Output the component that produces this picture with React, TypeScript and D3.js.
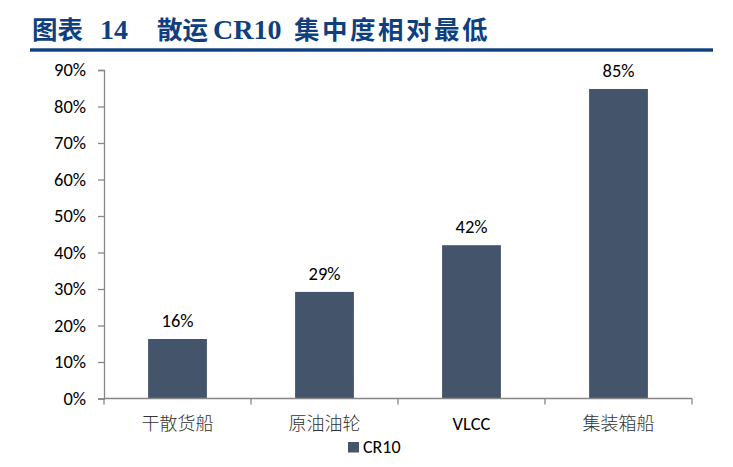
import React, { useEffect, useRef } from 'react';
import * as d3 from 'd3';

const categories = ['干散货船', '原油油轮', 'VLCC', '集装箱船'];
const cr10Values = [16.3, 29.2, 42.0, 84.8];
const valueLabels = ['16%', '29%', '42%', '85%'];
const yTicks = [0, 10, 20, 30, 40, 50, 60, 70, 80, 90];
const seriesName = 'CR10';
// title pieces and their x positions
const titleParts = ['图表', '14', '散运', 'CR10', '集中度相对最低'];
const titleX = [32, 100, 157, 213, 294];

const width = 733;
const height = 467;

const App: React.FC = () => {
  const svgRef = useRef<SVGSVGElement | null>(null);

  useEffect(() => {
    if (!svgRef.current) return;
    const svg = d3.select(svgRef.current);
    svg.selectAll('*').remove();

    const margin = { top: 70, right: 41, bottom: 68.5, left: 104 };
    const barColor = '#44546a';
    const axisColor = '#868686';
    const titleColor = '#0f3f7f';
    const sans = 'Carlito, "Open Sans", "Noto Sans", sans-serif';
    const cjk = '"Noto Sans CJK SC", sans-serif';

    // title
    const title = svg
      .append('text')
      .attr('y', 39)
      .attr('fill', titleColor)
      .attr('font-family', '"Liberation Serif", "Noto Sans CJK SC", serif')
      .attr('font-weight', 'bold')
      .attr('font-size', 25.5);
    title
      .selectAll('tspan')
      .data(titleParts)
      .enter()
      .append('tspan')
      .attr('x', (_, i) => titleX[i])
      .attr('font-size', (d) => (/[0-9A-Z]/.test(d) ? 28 : 25.5))
      .attr('letter-spacing', (_, i) => (i === 4 ? 2.5 : 0))
      .text((d) => d);
    svg
      .append('rect')
      .attr('x', 30)
      .attr('y', 48.3)
      .attr('width', 683)
      .attr('height', 3.4)
      .attr('fill', titleColor);

    const x = d3
      .scaleBand<string>()
      .domain(categories)
      .range([margin.left, width - margin.right])
      .paddingInner(0.6)
      .paddingOuter(0.3);

    const y = d3
      .scaleLinear()
      .domain([0, 90])
      .range([height - margin.bottom, margin.top]);

    // bars
    svg
      .selectAll('.bar')
      .data(cr10Values)
      .enter()
      .append('rect')
      .attr('class', 'bar')
      .attr('x', (_, i) => x(categories[i])!)
      .attr('y', (d) => y(d))
      .attr('width', x.bandwidth())
      .attr('height', (d) => y(0) - y(d))
      .attr('fill', barColor);

    // value labels
    svg
      .selectAll('.vlabel')
      .data(cr10Values)
      .enter()
      .append('text')
      .attr('class', 'vlabel')
      .attr('x', (_, i) => x(categories[i])! + x.bandwidth() / 2)
      .attr('y', (d) => y(d) - 12)
      .attr('text-anchor', 'middle')
      .attr('font-family', sans)
      .attr('font-size', 18.5)
      .attr('fill', '#000')
      .text((_, i) => valueLabels[i]);

    // y axis
    const yAxis = svg
      .append('g')
      .attr('transform', `translate(${margin.left},0)`)
      .call(
        d3
          .axisLeft(y)
          .tickValues(yTicks)
          .tickSize(6)
          .tickPadding(12)
          .tickFormat((d) => `${d}%`)
      );
    yAxis.select('.domain').attr('stroke', axisColor).attr('stroke-width', 1.3);
    yAxis.selectAll('.tick line').attr('stroke', axisColor).attr('stroke-width', 1.3);
    yAxis
      .selectAll('.tick text')
      .attr('font-family', sans)
      .attr('font-size', 18.5)
      .attr('fill', '#000');

    // x axis: baseline with ticks at category boundaries
    const bandW = (width - margin.right - margin.left) / categories.length;
    const boundaries = d3.range(categories.length + 1).map((i) => margin.left + i * bandW);
    const xg = svg.append('g');
    xg.append('line')
      .attr('x1', margin.left)
      .attr('x2', width - margin.right)
      .attr('y1', y(0))
      .attr('y2', y(0))
      .attr('stroke', axisColor)
      .attr('stroke-width', 1.3);
    xg.selectAll('.xtick')
      .data(boundaries)
      .enter()
      .append('line')
      .attr('x1', (d) => d)
      .attr('x2', (d) => d)
      .attr('y1', y(0))
      .attr('y2', y(0) + 6)
      .attr('stroke', axisColor)
      .attr('stroke-width', 1.3);
    xg.selectAll('.xlabel')
      .data(categories)
      .enter()
      .append('text')
      .attr('x', (d) => x(d)! + x.bandwidth() / 2)
      .attr('y', 430)
      .attr('text-anchor', 'middle')
      .attr('font-family', (d) => (/^[A-Z]+$/.test(d) ? sans : cjk))
      .attr('font-size', (d) => (/^[A-Z]+$/.test(d) ? 18.5 : 18))
      .attr('font-weight', (d) => (/^[A-Z]+$/.test(d) ? 'normal' : 300))
      .attr('fill', (d) => (/^[A-Z]+$/.test(d) ? '#000' : '#333'))
      .text((d) => d);

    // legend
    const lg = svg.append('g').attr('transform', 'translate(348,442)');
    lg.append('rect').attr('width', 11).attr('height', 10.5).attr('fill', barColor);
    lg.append('text')
      .attr('x', 15)
      .attr('y', 11)
      .attr('font-family', sans)
      .attr('font-size', 18)
      .attr('fill', '#000')
      .text(seriesName);
  }, []);

  return (
    <svg
      ref={svgRef}
      width={width}
      height={height}
      style={{ position: 'absolute', left: 0, top: 0, background: '#fff' }}
    />
  );
};

export default App;
